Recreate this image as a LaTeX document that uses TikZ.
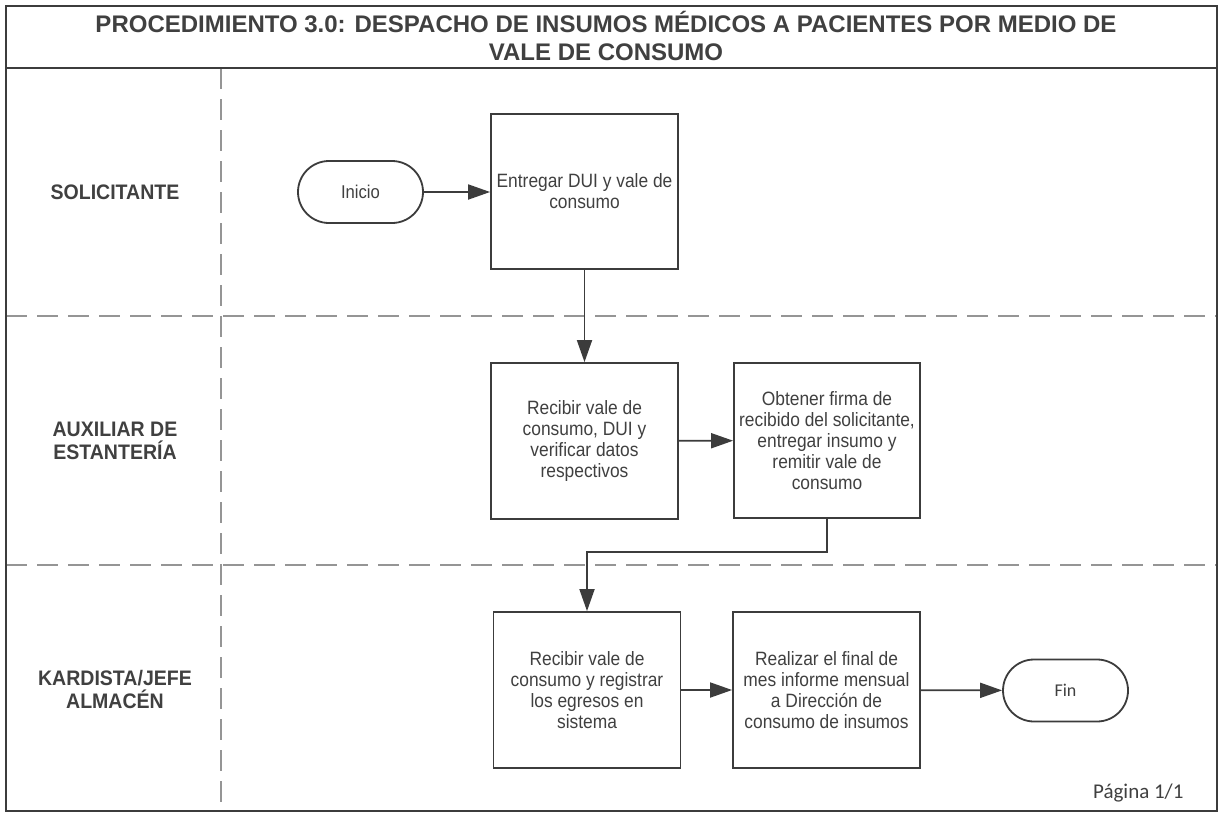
\documentclass[tikz,border=0pt]{standalone}
\usepackage{fontspec}
\setmainfont{Liberation Sans}
\newfontfamily\calib{Carlito}
\newfontfamily\boxfont[FakeStretch=0.9]{Liberation Sans}
\newfontfamily\lanefont[FakeStretch=0.93]{Liberation Sans}
\usetikzlibrary{arrows.meta}
\definecolor{ln}{HTML}{3C3C3C}
\definecolor{tx}{HTML}{404040}
\definecolor{dsh}{HTML}{959595}
\tikzset{
  procbox/.style={draw=ln, line width=1.8pt, minimum width=187pt, minimum height=156pt, inner sep=0pt, align=center, text=tx, font=\boxfont\fontsize{19.3}{21}\selectfont},
  term/.style={draw=ln, line width=1.8pt, minimum width=125pt, minimum height=62pt, rounded corners=31pt, inner sep=0pt, text=tx, font=\boxfont\fontsize{18.5}{21}\selectfont},
  lanelabel/.style={align=center, text=tx, font=\lanefont\bfseries\fontsize{21}{23}\selectfont},
  flow/.style={draw=ln, line width=1.8pt, -{Triangle[length=22pt,width=15pt]}},
  flowline/.style={draw=ln, line width=1.8pt},
  lanesep/.style={draw=dsh, line width=1.4pt, dash pattern=on 21pt off 10pt}
}
\begin{document}
\begin{tikzpicture}[x=1pt,y=-1pt]
\useasboundingbox (0,0) rectangle (1220,814);
\fill[white] (0,0) rectangle (1220,814);
% lane separators
\draw[lanesep] (6,316) -- (1217,316);
\draw[lanesep] (6,565) -- (1217,565);
\draw[lanesep] (221,68) -- (221,811);
% frame
\draw[ln, line width=2pt] (6,6) rectangle (1217,811);
\draw[ln, line width=2pt] (6,68) -- (1217,68);
% title
\node[align=center, text=tx, font=\bfseries\fontsize{24}{28}\selectfont] (title) at (606,36)
  {PROCEDIMIENTO 3.0: DESPACHO DE INSUMOS MÉDICOS A PACIENTES POR MEDIO DE\\VALE DE CONSUMO};
% lane labels
\node[lanelabel] (l1) at (115,192) {SOLICITANTE};
\node[lanelabel] (l2) at (115,441) {AUXILIAR DE\\ESTANTERÍA};
\node[lanelabel] (l3) at (115,689) {KARDISTA/JEFE\\ALMACÉN};
% nodes
\node[term] (inicio) at (360.5,192) {Inicio};
\node[procbox, minimum height=155pt] (b1) at (584.5,191.5) {Entregar DUI y vale de\\consumo};
\node[procbox] (b2) at (584.5,441) {Recibir vale de\\consumo, DUI y\\verificar datos\\respectivos};
\node[procbox, minimum width=186pt, minimum height=155pt] (b3) at (827,440.5) {Obtener firma de\\recibido del solicitante,\\entregar insumo y\\remitir vale de\\consumo};
\node[procbox] (b4) at (587,690) {Recibir vale de\\consumo y registrar\\los egresos en\\sistema};
\node[procbox] (b5) at (826.5,690) {Realizar el final de\\mes informe mensual\\a Dirección de\\consumo de insumos};
\node[term, font=\calib\fontsize{18}{21}\selectfont] (fin) at (1065.5,690.5) {Fin};
% connectors
\draw[flow] (inicio) -- (b1.west |- inicio);
\draw[flow] (b1.south) -- (b2.north);
\draw[flow] (b2) -- (b3);
\coordinate (mid) at (700,552);
\draw[flowline] (b3.south) |- (mid);
\draw[flow] (mid) -| (b4.north);
\draw[flow] (b4) -- (b5);
\draw[flow] (b5) -- (fin);
% page number
\node[anchor=east, text=tx, font=\calib\fontsize{21}{24}\selectfont] (page) at (1187,793) {Página 1/1};
\end{tikzpicture}
\end{document}
